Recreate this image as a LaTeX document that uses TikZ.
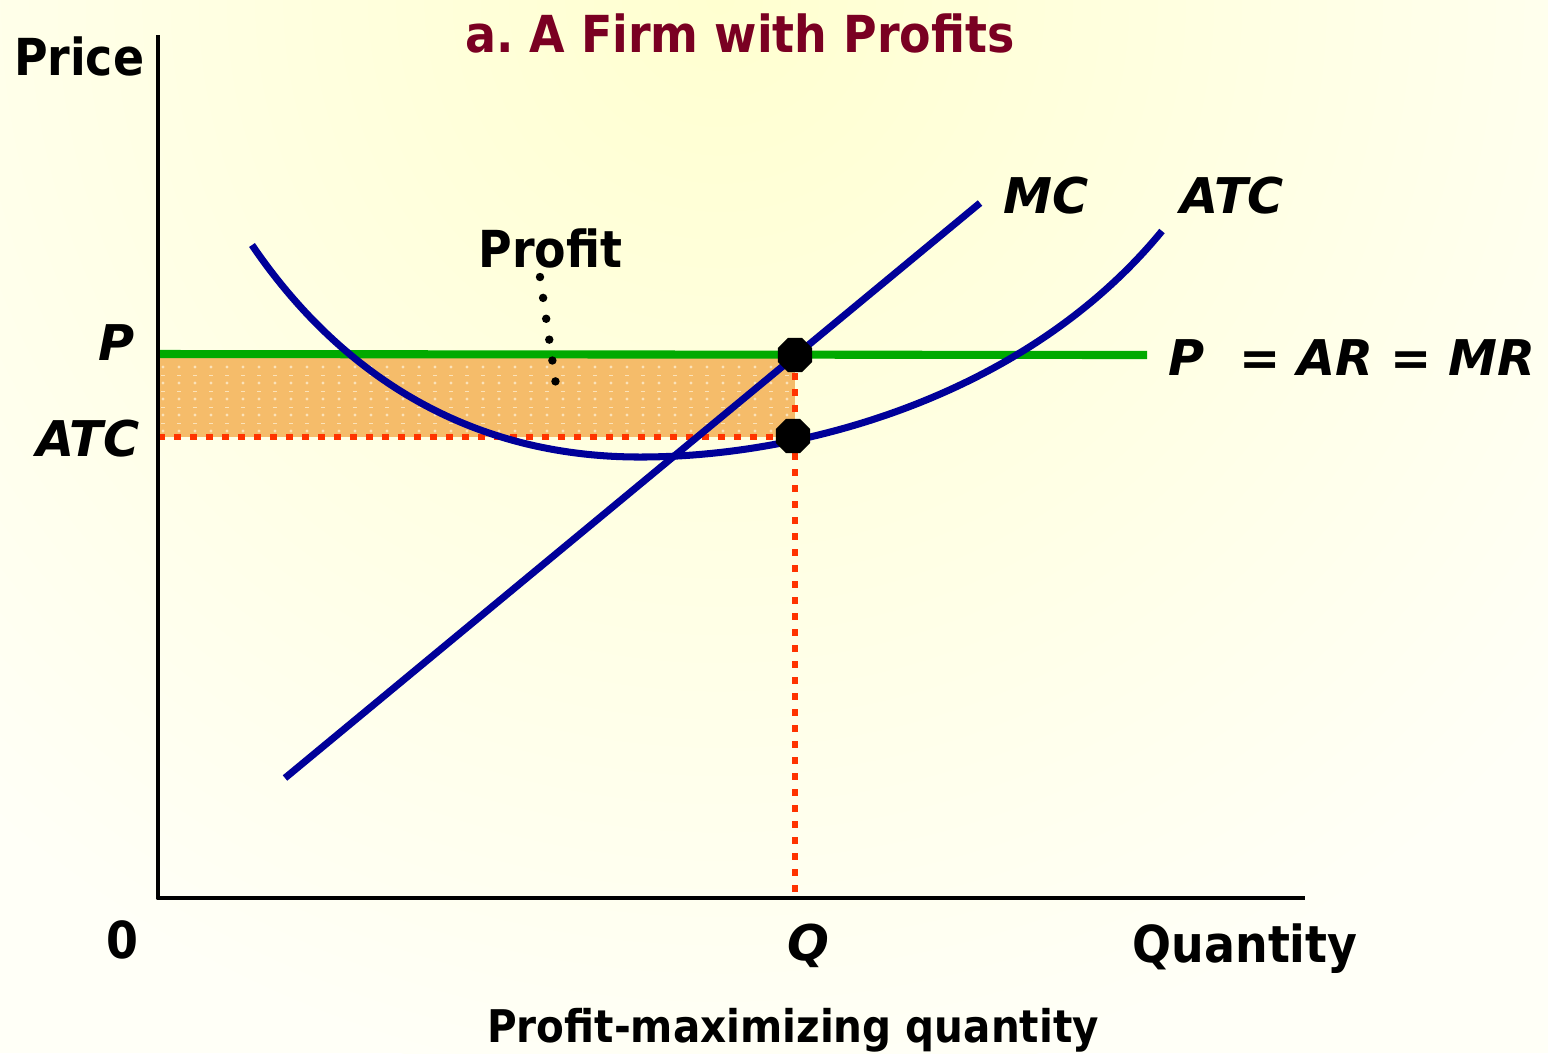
\documentclass[tikz,border=0pt]{standalone}
\usepackage{fontspec}
\setmainfont{DejaVu Sans Condensed}
\newfontfamily\widefont{DejaVu Sans}
\definecolor{bgin}{HTML}{FFFFD0}
\definecolor{bgout}{HTML}{FFFFF7}
\definecolor{titlered}{HTML}{7A0022}
\definecolor{curveblue}{HTML}{000099}
\definecolor{pricegreen}{HTML}{00AA00}
\definecolor{profitfill}{HTML}{F5BC6A}
\definecolor{profitdot}{HTML}{FBE2B8}
\definecolor{guidered}{HTML}{FF3300}
\usetikzlibrary{shapes.geometric}

\begin{document}
\begin{tikzpicture}[x=0.01cm, y=-0.01cm,
  lbl/.style={font=\fontsize{14.5}{17}\selectfont\bfseries, inner sep=0pt},
  ilbl/.style={font=\widefont\fontsize{14}{17}\selectfont\bfseries\itshape, inner sep=0pt},
  curve/.style={draw=curveblue, line width=2pt},
  guide/.style={draw=guidered, line width=1.9pt, dash pattern=on 1.9pt off 2.65pt},
  eqdot/.style={regular polygon, regular polygon sides=8, fill=black,
                minimum size=0.37cm, inner sep=0pt},
]
\useasboundingbox (0,0) rectangle (1548,1053);
% background
\begin{scope}
  \clip (0,0) rectangle (1548,1053);
  \fill[bgout] (0,0) rectangle (1548,1053);
  \shade[inner color=bgin, outer color=bgout] (720,0) circle (1100);
\end{scope}

% key points
\coordinate (origin) at (158,898);
\coordinate (ytop) at (158,35);
\coordinate (xend) at (1305,898);
\coordinate (paxis) at (158,354);
\coordinate (pend) at (1147,355);
\coordinate (atcaxis) at (158,437);
\coordinate (qtop) at (795,357);
\coordinate (qaxis) at (795,898);
\coordinate (mclow) at (285,778);
\coordinate (mchigh) at (980,203);
\coordinate (atcleft) at (252,245);
\coordinate (atcmin) at (640,457);
\coordinate (atcright) at (1162,231);

% profit area
\fill[profitfill] (158,357) rectangle (795,437);
\foreach \i in {0,...,39}{
  \foreach \j in {0,...,4}{
    \fill[profitdot] ({163+16*\i},{367+16*\j}) circle (1.7);
  }
  \foreach \j in {0,...,3}{
    \fill[profitdot] ({161+16*\i},{374.5+16*\j}) rectangle ({165+16*\i},{376+16*\j});
  }
}

% price line
\draw[pricegreen, line width=2.3pt] (paxis) -- (pend);

% guides
\draw[guide] (atcaxis) -- (795,437);
\draw[guide] (qtop) -- (qaxis);

% cost curves
\draw[curve] (atcleft) .. controls (320,345) and (440,457) .. (atcmin)
  .. controls (810,457) and (1030,392) .. (atcright);
\draw[curve] (mclow) -- (mchigh);

% axes
\draw[line width=1.4pt, line join=round] (ytop) -- (origin) -- (xend);

% equilibrium points
\node[eqdot] (eqP) at (795,355) {};
\node[eqdot] (eqATC) at (793,436) {};

% labels
\node[lbl, text=titlered, anchor=base] (title) at (740,52) {a.\ A Firm with Profits};
\node[lbl, anchor=base east] (price) at (145,75) {Price};
\node[ilbl, anchor=base east] (plbl) at (135,360) {P};
\node[ilbl, anchor=base east] (atclbl) at (140,456) {ATC};
\node[ilbl, anchor=base west] (mclbl) at (1003,213) {MC};
\node[ilbl, anchor=base west] (atcname) at (1180,213) {ATC};
\node[ilbl, anchor=base west] (arlbl) at (1168,375) {P\ \ = AR = MR};
\node[lbl, anchor=base west] (profit) at (478,267) {Profit};
\node[lbl, anchor=base] (zero) at (122,958) {0};
\node[ilbl, anchor=base] (qlbl) at (808,960) {Q};
\node[lbl, anchor=base west] (qty) at (1132,962) {Quantity};
\node[lbl, anchor=base, font=\fontsize{12.8}{15}\selectfont\bfseries] (pmq) at (793,1042) {Profit-maximizing quantity};

% profit leader
\coordinate (lead1) at (540,277);
\coordinate (lead2) at (556,385);
\draw[line width=2.4pt, line cap=round, dash pattern=on 0pt off 6pt] (lead1) -- (lead2);
\end{tikzpicture}
\end{document}
